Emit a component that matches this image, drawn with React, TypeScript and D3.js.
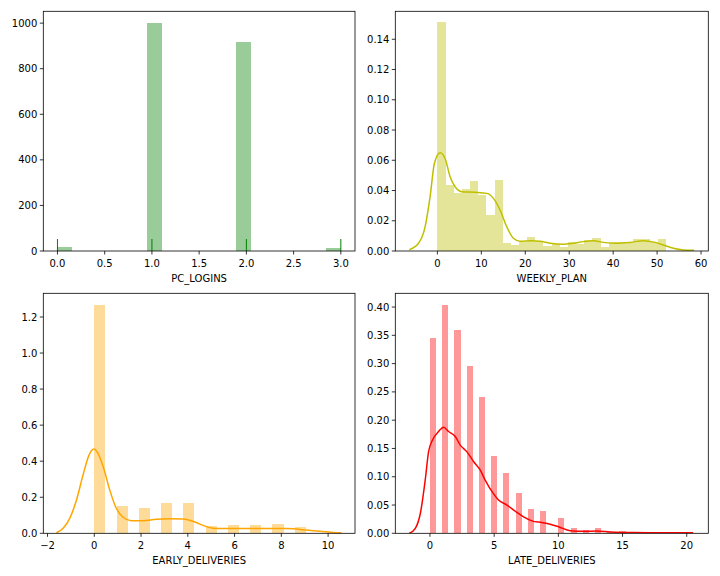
import React from "react";
import * as d3 from "d3";

// ---------- DATA ----------
// PC_LOGINS: raw counts per histogram bin (19 bins over [0, 3])
const pcLoginsRange = [0, 3];
const pcLoginsCounts = [18, 0, 0, 0, 0, 0, 1002, 0, 0, 0, 0, 0, 918, 0, 0, 0, 0, 0, 13];
const pcLoginsRug = [0, 1, 2, 3];
const pcLoginsXTicks = [0, 0.5, 1, 1.5, 2, 2.5, 3];
const pcLoginsYTicks = [0, 200, 400, 600, 800, 1000];

// WEEKLY_PLAN: density per bin (28 bins over [0, 52]) and KDE points
const weeklyRange = [0, 52];
const weeklyDensity = [
  0.1512, 0.0438, 0.0385, 0.0409, 0.0462, 0.0372, 0.024, 0.0469, 0.0055, 0.0042,
  0.0057, 0.0092, 0.0068, 0.0035, 0.0048, 0.0029, 0.0059, 0.0046, 0.007, 0.0086,
  0.0026, 0.0057, 0.0057, 0.0062, 0.0079, 0.0079, 0.006, 0.0079,
];
const weeklyKdeX = [
  -6.4, -4.3, -2.8, -1.66, -0.68, 0.61, 1.75, 2.89, 4.03, 5.55, 8.58, 11.24, 12.75,
  14.27, 15.79, 17.3, 18.82, 21.48, 23.35, 25.64, 28.67, 30.95, 33.22, 35.5, 37.77,
  40.8, 43.85, 46.87, 49.53, 51.42, 53.7, 55.97, 58.4,
];
const weeklyKdeY = [
  0.0009, 0.0051, 0.016, 0.0359, 0.0579, 0.0649, 0.0612, 0.0491, 0.0425, 0.0392,
  0.0388, 0.0381, 0.0348, 0.0271, 0.016, 0.0084, 0.0064, 0.0068, 0.0064, 0.0051,
  0.0044, 0.0051, 0.0062, 0.0068, 0.0057, 0.0051, 0.0057, 0.0068, 0.0057, 0.004,
  0.0018, 0.0007, 0.0005,
];
const weeklyXTicks = [0, 10, 20, 30, 40, 50, 60];
const weeklyYTicks = [0, 0.02, 0.04, 0.06, 0.08, 0.1, 0.12, 0.14];

// EARLY_DELIVERIES: density per bin (21 bins over [0, 10]) and KDE points
const earlyRange = [0, 10];
const earlyDensity = [
  1.268, 0, 0.152, 0, 0.141, 0, 0.168, 0, 0.168, 0, 0.043, 0, 0.046, 0, 0.046, 0,
  0.052, 0, 0.035, 0, 0.004,
];
const earlyKdeX = [
  -1.62, -1.33, -1.05, -0.76, -0.48, -0.22, -0.02, 0.16, 0.38, 0.66, 0.94, 1.23,
  1.58, 2.08, 2.65, 3.22, 3.79, 4.15, 4.5, 4.79, 5.07, 5.23, 6.22, 7.36, 8.22, 9.07,
  9.64, 10.21, 10.57,
];
const earlyKdeY = [
  0.003, 0.028, 0.083, 0.185, 0.324, 0.435, 0.468, 0.444, 0.37, 0.241, 0.139, 0.089,
  0.07, 0.07, 0.078, 0.081, 0.079, 0.07, 0.052, 0.037, 0.028, 0.026, 0.026, 0.027,
  0.026, 0.018, 0.011, 0.005, 0.003,
];
const earlyXTicks = [-2, 0, 2, 4, 6, 8, 10];
const earlyYTicks = [0, 0.2, 0.4, 0.6, 0.8, 1.0, 1.2];

// LATE_DELIVERIES: density per bin (42 bins over [0, 20]) and KDE points
const lateRange = [0, 20];
const lateDensity = [
  0.3457, 0, 0.4041, 0, 0.3599, 0, 0.2962, 0, 0.2413, 0, 0.1369, 0, 0.1062, 0, 0.0708,
  0, 0.0431, 0, 0.0395, 0, 0, 0.0271, 0, 0.0099, 0, 0.0059, 0, 0.0099, 0, 0.003, 0,
  0.004, 0, 0.002, 0, 0.001, 0, 0.001, 0, 0.001, 0, 0.002,
];
const lateKdeX = [
  -1.61, -1.14, -0.75, -0.37, -0.11, 0.2, 0.67, 1.06, 1.45, 1.97, 2.36, 2.88, 3.39,
  3.91, 4.3, 4.82, 5.34, 5.99, 6.64, 7.29, 7.94, 8.72, 9.36, 10.01, 10.92, 11.95,
  13.0, 14.03, 15.84, 18.4, 20.5,
];
const lateKdeY = [
  0.0, 0.0088, 0.035, 0.094, 0.144, 0.165, 0.18, 0.1876, 0.18, 0.171, 0.156, 0.144,
  0.127, 0.112, 0.094, 0.074, 0.059, 0.05, 0.039, 0.029, 0.022, 0.019, 0.016, 0.0117,
  0.0047, 0.0035, 0.004, 0.0023, 0.0012, 0.001, 0.0008,
];
const lateXTicks = [0, 5, 10, 15, 20];
const lateYTicks = [0, 0.05, 0.1, 0.15, 0.2, 0.25, 0.3, 0.35, 0.4];

// ---------- PANELS ----------
type Panel = {
  label: string;
  left: number; right: number; top: number; bottom: number;
  xDomain: [number, number]; yDomain: [number, number];
  range: number[]; values: number[];
  kdeX?: number[]; kdeY?: number[]; rug?: number[];
  xTicks: number[]; yTicks: number[];
  xFmt: (v: number) => string; yFmt: (v: number) => string;
  barColor: string; lineColor: string;
};

const fmtMinus = (f: (v: number) => string) => (v: number) => f(v).replace("-", "\u2212");

const panels: Panel[] = [
  {
    label: "PC_LOGINS", left: 43.3, right: 355, top: 11.3, bottom: 251,
    xDomain: [-0.15, 3.15], yDomain: [0, 1052],
    range: pcLoginsRange, values: pcLoginsCounts, rug: pcLoginsRug,
    xTicks: pcLoginsXTicks, yTicks: pcLoginsYTicks,
    xFmt: d3.format(".1f"), yFmt: d3.format("d"),
    barColor: "#99cc99", lineColor: "#008000",
  },
  {
    label: "WEEKLY_PLAN", left: 395.3, right: 708.3, top: 11.3, bottom: 251,
    xDomain: [-9.58, 61.65], yDomain: [0, 0.1585],
    range: weeklyRange, values: weeklyDensity, kdeX: weeklyKdeX, kdeY: weeklyKdeY,
    xTicks: weeklyXTicks, yTicks: weeklyYTicks,
    xFmt: d3.format("d"), yFmt: d3.format(".2f"),
    barColor: "#e5e599", lineColor: "#bfbf00",
  },
  {
    label: "EARLY_DELIVERIES", left: 43.3, right: 355, top: 293.3, bottom: 533.3,
    xDomain: [-2.18, 11.15], yDomain: [0, 1.3314],
    range: earlyRange, values: earlyDensity, kdeX: earlyKdeX, kdeY: earlyKdeY,
    xTicks: earlyXTicks, yTicks: earlyYTicks,
    xFmt: fmtMinus(d3.format("d")), yFmt: d3.format(".1f"),
    barColor: "#ffdb99", lineColor: "#ffa500",
  },
  {
    label: "LATE_DELIVERIES", left: 395.3, right: 708.3, top: 293.3, bottom: 533.3,
    xDomain: [-2.7, 21.68], yDomain: [0, 0.4243],
    range: lateRange, values: lateDensity, kdeX: lateKdeX, kdeY: lateKdeY,
    xTicks: lateXTicks, yTicks: lateYTicks,
    xFmt: d3.format("d"), yFmt: d3.format(".2f"),
    barColor: "#ff9999", lineColor: "#ff0000",
  },
];

const FONT = "'DejaVu Sans', sans-serif";

function PanelView({ p }: { p: Panel }) {
  const x = d3.scaleLinear().domain(p.xDomain).range([p.left, p.right]);
  const y = d3.scaleLinear().domain(p.yDomain).range([p.bottom, p.top]);
  const n = p.values.length;
  const w = (p.range[1] - p.range[0]) / n;
  const bars = p.values.map((v, i) => ({ x0: p.range[0] + i * w, x1: p.range[0] + (i + 1) * w, v }));
  let path: string | null = null;
  if (p.kdeX && p.kdeY) {
    const pts: [number, number][] = p.kdeX.map((xv, i) => [xv, p.kdeY![i]]);
    path = d3
      .line<[number, number]>()
      .x((d) => x(d[0]))
      .y((d) => y(d[1]))
      .curve(d3.curveMonotoneX)(pts);
  }
  const clipId = `clip-${p.label}`;
  const rugH = (p.bottom - p.top) * 0.05;
  return (
    <g>
      <defs>
        <clipPath id={clipId}>
          <rect x={p.left} y={p.top} width={p.right - p.left} height={p.bottom - p.top} />
        </clipPath>
      </defs>
      <g clipPath={`url(#${clipId})`}>
        <g shapeRendering="crispEdges">
          {bars
            .filter((b) => b.v > 0)
            .map((b, i) => (
              <rect
                key={i}
                x={x(b.x0)}
                y={y(b.v)}
                width={x(b.x1) - x(b.x0)}
                height={y(0) - y(b.v)}
                fill={p.barColor}
              />
            ))}
        </g>
        {path && <path d={path} fill="none" stroke={p.lineColor} strokeWidth={1.5} />}
        {p.rug &&
          p.rug.map((r, i) => (
            <line key={i} x1={x(r)} x2={x(r)} y1={p.bottom} y2={p.bottom - rugH} stroke={p.lineColor} strokeWidth={1} />
          ))}
      </g>
      <rect
        x={p.left}
        y={p.top}
        width={p.right - p.left}
        height={p.bottom - p.top}
        fill="none"
        stroke="#000"
        strokeWidth={0.8}
      />
      {p.xTicks.map((t, i) => (
        <g key={i}>
          <line x1={x(t)} x2={x(t)} y1={p.bottom} y2={p.bottom + 3.5} stroke="#000" strokeWidth={0.8} />
          <text x={x(t)} y={p.bottom + 16} textAnchor="middle" fontSize={10} fontFamily={FONT} fill="#000">
            {p.xFmt(t)}
          </text>
        </g>
      ))}
      {p.yTicks.map((t, i) => (
        <g key={i}>
          <line x1={p.left - 3.5} x2={p.left} y1={y(t)} y2={y(t)} stroke="#000" strokeWidth={0.8} />
          <text x={p.left - 6} y={y(t) + 3.6} textAnchor="end" fontSize={10} fontFamily={FONT} fill="#000">
            {p.yFmt(t)}
          </text>
        </g>
      ))}
      <text
        x={(p.left + p.right) / 2}
        y={p.bottom + 30.5}
        textAnchor="middle"
        fontSize={10}
        fontFamily={FONT}
        fill="#000"
      >
        {p.label}
      </text>
    </g>
  );
}

export default function App() {
  return (
    <svg
      width={720}
      height={576}
      style={{ position: "absolute", left: 0, top: 0, background: "#fff" }}
    >
      <rect x={0} y={0} width={720} height={576} fill="#fff" />
      {panels.map((p) => (
        <PanelView key={p.label} p={p} />
      ))}
    </svg>
  );
}
